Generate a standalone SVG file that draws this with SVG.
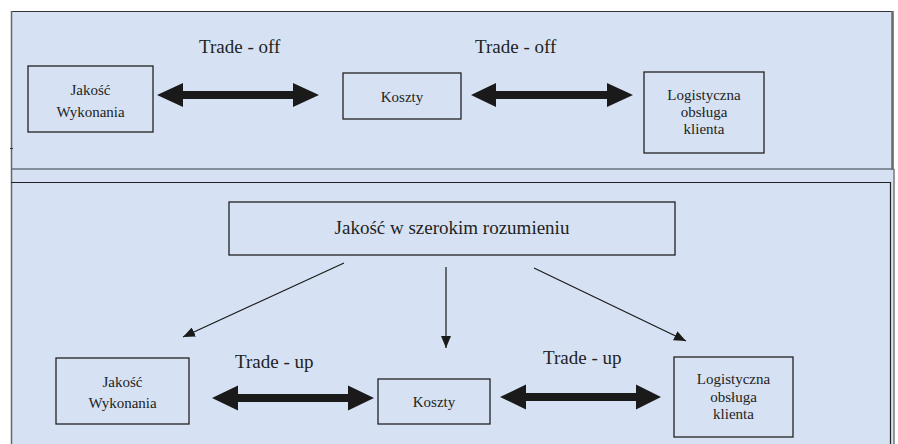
<svg xmlns="http://www.w3.org/2000/svg" width="898" height="444" viewBox="0 0 898 444">
<defs>
<style>
.box{fill:none;stroke:#222;stroke-width:1.3}
text{font-family:"Liberation Serif","Times New Roman",Tinos,"DejaVu Serif",serif;fill:#222}
.t{text-anchor:middle;font-size:15px}
.lbl{font-size:19px}
.big{text-anchor:middle;font-size:19px}
.dbl{fill:#1a1a1a}
.ln{stroke:#1a1a1a;stroke-width:1.2;fill:none}
</style>
<marker id="ah" markerUnits="userSpaceOnUse" markerWidth="12" markerHeight="10" refX="12" refY="5" orient="auto">
<path d="M0,0 L12,5 L0,10 z" fill="#1a1a1a"/>
</marker>
</defs>
<rect x="11" y="11" width="883" height="433" fill="#D6E2F3"/>
<g id="frame">
<line x1="11" y1="11.5" x2="892" y2="11.5" stroke="#333" stroke-width="1.2"/>
<line x1="11.5" y1="11" x2="11.5" y2="444" stroke="#666" stroke-width="1.5"/>
<line x1="892.5" y1="11" x2="892.5" y2="170" stroke="#6a6a6a" stroke-width="2.5"/>
<line x1="10" y1="148.5" x2="13" y2="148.5" stroke="#333" stroke-width="1"/>
<line x1="12" y1="169" x2="894" y2="169" stroke="#6a7280" stroke-width="1.5"/>
<line x1="11" y1="182.5" x2="891" y2="182.5" stroke="#222" stroke-width="1.2"/>
<line x1="890.5" y1="182" x2="890.5" y2="444" stroke="#222" stroke-width="1.2"/>
<line x1="894" y1="169" x2="894" y2="444" stroke="#777" stroke-width="1.5"/>
</g>
<g id="n1"><rect class="box" x="28" y="66" width="125" height="66"/><text class="t" x="90.5" y="95" font-family="Liberation Serif, serif">Jakość</text><text class="t" x="90.5" y="117" font-family="Liberation Serif, serif">Wykonania</text></g>
<g id="n2"><rect class="box" x="343" y="73" width="118" height="46"/><text class="t" x="402" y="102">Koszty</text></g>
<g id="n3"><rect class="box" x="644" y="72" width="120" height="81"/><text class="t" x="704" y="100">Logistyczna</text><text class="t" x="704" y="117">obsługa</text><text class="t" x="704" y="134">klienta</text></g>
<g id="n4"><rect class="box" x="229" y="202" width="446" height="53"/><text class="big" x="452" y="234">Jakość w szerokim rozumieniu</text></g>
<g id="n5"><rect class="box" x="56" y="358" width="133" height="66"/><text class="t" x="122.5" y="387">Jakość</text><text class="t" x="122.5" y="408">Wykonania</text></g>
<g id="n6"><rect class="box" x="378" y="379" width="112" height="45"/><text class="t" x="434" y="407">Koszty</text></g>
<g id="n7"><rect class="box" x="674" y="357" width="119" height="80"/><text class="t" x="733.5" y="384">Logistyczna</text><text class="t" x="733.5" y="402">obsługa</text><text class="t" x="733.5" y="419">klienta</text></g>
<g id="connectors">
<polygon class="dbl" points="157,95 183,83 183,91 293,91 293,83 319,95 293,107 293,99 183,99 183,107"/>
<polygon class="dbl" points="471,95 496,83 496,91 607,91 607,83 633,95 607,107 607,99 496,99 496,107"/>
<polygon class="dbl" points="212,398 238,385.5 238,394 348,394 348,385.5 374,398 348,410.5 348,402 238,402 238,410.5"/>
<polygon class="dbl" points="500,397 526,384.5 526,393 636,393 636,384.5 661,397 636,409.5 636,401 526,401 526,409.5"/>
<line class="ln" x1="344" y1="263" x2="183" y2="337" marker-end="url(#ah)"/>
<line class="ln" x1="446" y1="267" x2="446" y2="348" marker-end="url(#ah)"/>
<line class="ln" x1="534" y1="268" x2="686" y2="341" marker-end="url(#ah)"/>
<text class="lbl" x="199" y="53">Trade - off</text>
<text class="lbl" x="475" y="53">Trade - off</text>
<text class="lbl" x="235" y="368">Trade - up</text>
<text class="lbl" x="543" y="364">Trade - up</text>
</g>
</svg>
